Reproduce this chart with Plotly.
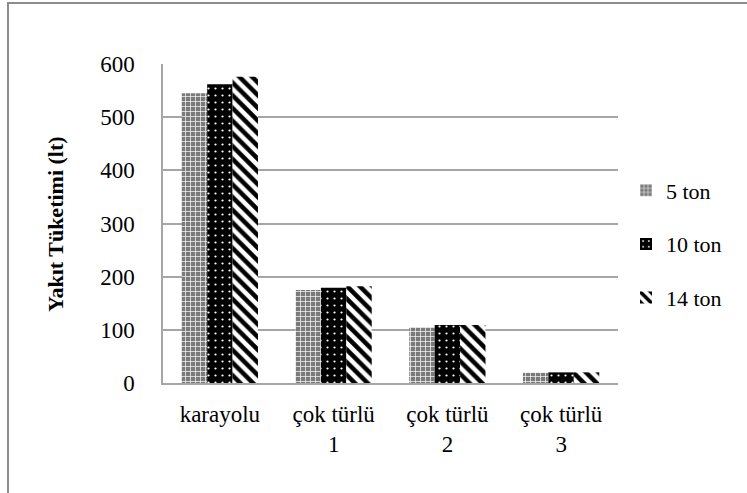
import plotly.graph_objects as go

categories = ["karayolu", "çok türlü<br>1", "çok türlü<br>2", "çok türlü<br>3"]
series_names = ["5 ton", "10 ton", "14 ton"]
ton5 = [545, 175, 104, 19]
ton10 = [562, 179, 109, 20]
ton14 = [576, 182, 109, 20]
y_ticks = [0, 100, 200, 300, 400, 500, 600]

FONT = "Liberation Serif"

patterns = [
    dict(shape="+", bgcolor="#7a7a7a", fgcolor="#ffffff", size=5, solidity=0.25, fillmode="replace"),
    dict(shape=".", bgcolor="#000000", fgcolor="#ffffff", size=7, solidity=0.08, fillmode="replace"),
    dict(shape="\\", bgcolor="#ffffff", fgcolor="#000000", size=9, solidity=0.5, fillmode="replace"),
]

fig = go.Figure()
for i, (name, vals) in enumerate(zip(series_names, [ton5, ton10, ton14])):
    fig.add_trace(go.Bar(
        x=categories, y=vals, name=name, legendgroup=name,
        marker=dict(color=patterns[i]["bgcolor"], line=dict(width=0), pattern=patterns[i]),
    ))

W, H = 747, 493
L, R, T, B = 163, 618, 64, 383

fig.update_layout(
    width=W, height=H,
    margin=dict(l=L, r=W - R, t=T, b=H - B, pad=0, autoexpand=False),
    paper_bgcolor="white", plot_bgcolor="white",
    barmode="group", bargap=0.33, bargroupgap=0,
    font=dict(family=FONT, size=23, color="#000000"),
    showlegend=True,
    legend=dict(x=(626 - L) / (R - L), xanchor="left", y=(B - 244) / (B - T), yanchor="middle",
                font=dict(family=FONT, size=22, color="#000000"), tracegroupgap=22, traceorder="grouped",
                itemwidth=30, bgcolor="rgba(0,0,0,0)"),
    xaxis=dict(showline=True, linecolor="#a6a6a6", linewidth=1.5, ticks="", showgrid=False,
               tickfont=dict(family=FONT, size=23), ticklabelstandoff=10),
    yaxis=dict(range=[0, 600], tickvals=y_ticks, showgrid=True, gridcolor="#a6a6a6", gridwidth=1.5,
               showline=True, linecolor="#a6a6a6", linewidth=1.5, ticks="", zeroline=False,
               tickfont=dict(family=FONT, size=23), ticklabelstandoff=22),
    annotations=[dict(text="<b>Yakıt Tüketimi (lt)</b>", textangle=-90, xref="paper", yref="paper",
                      x=(56 - L) / (R - L), y=(B - 224) / (B - T), xanchor="center", yanchor="middle",
                      showarrow=False, font=dict(family=FONT, size=22, color="#000000"))],
    shapes=[dict(type="rect", xref="paper", yref="paper",
                 x0=(8 - L) / (R - L), x1=(760 - L) / (R - L),
                 y0=(B - 510) / (B - T), y1=(B - 3) / (B - T),
                 line=dict(color="#8c8c8c", width=2), fillcolor="rgba(0,0,0,0)", layer="below")],
)

fig.write_html("out.html", config={"displayModeBar": False},
               post_script="document.body.style.margin='0';")
